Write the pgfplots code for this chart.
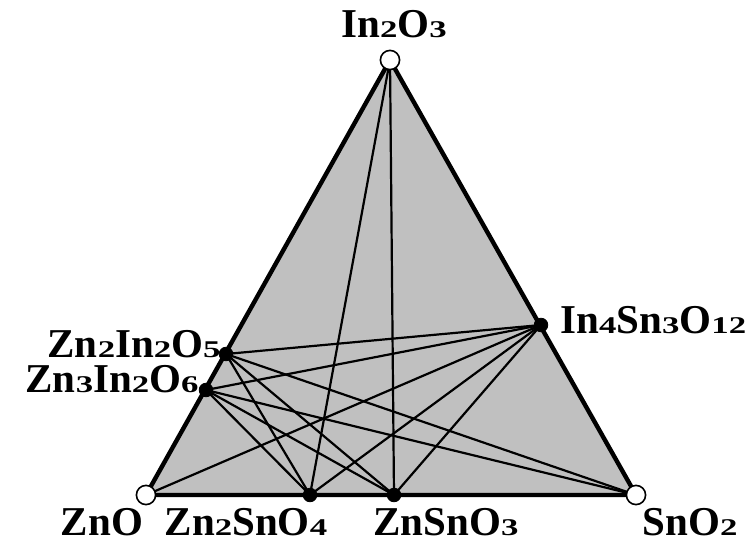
\documentclass[border=0pt]{standalone}
\usepackage{pgfplots}
\pgfplotsset{compat=1.18}
\usepackage{fontspec}
\setmainfont{Liberation Serif}
\newcommand{\s}[1]{\scalebox{1.45}[1]{\fontsize{12}{12}\selectfont #1}}
\newcommand{\lab}{\fontsize{20.5}{22}\selectfont\bfseries}
\definecolor{tri}{RGB}{192,192,192}
\begin{document}
\begin{tikzpicture}
\begin{axis}[
  scale only axis, width=374.5pt, height=273.5pt,
  xmin=0, xmax=749, ymin=0, ymax=547,
  hide axis, clip=false]
% invisible corners to fix the bounding box
\addplot[draw=none, forget plot] coordinates {(0,0) (749,547)};
% triangle
\addplot[fill=tri, draw=black, line width=2.2pt, line join=round] coordinates {(146,52) (636,52) (390,487)} -- cycle;
% tie lines
\addplot[black, line width=1.1pt] coordinates {(390,487) (310,52)};
\addplot[black, line width=1.1pt] coordinates {(390,487) (394,52)};
\addplot[black, line width=1.1pt] coordinates {(226,193) (541,222)};
\addplot[black, line width=1.1pt] coordinates {(226,193) (636,52)};
\addplot[black, line width=1.1pt] coordinates {(226,193) (310,52)};
\addplot[black, line width=1.1pt] coordinates {(226,193) (394,52)};
\addplot[black, line width=1.1pt] coordinates {(206,157) (541,222)};
\addplot[black, line width=1.1pt] coordinates {(206,157) (636,52)};
\addplot[black, line width=1.1pt] coordinates {(206,157) (310,52)};
\addplot[black, line width=1.1pt] coordinates {(206,157) (394,52)};
\addplot[black, line width=1.1pt] coordinates {(146,52) (541,222)};
\addplot[black, line width=1.1pt] coordinates {(310,52) (541,222)};
\addplot[black, line width=1.1pt] coordinates {(394,52) (541,222)};
% filled points
\addplot[only marks, mark=*, mark size=3.4pt, black] coordinates {(226,193) (206,157) (541,222) (310,52) (394,52)};
% open points
\addplot[only marks, mark=*, mark size=4.8pt, draw=black, fill=white, line width=0.8pt] coordinates {(390,487) (146,52) (636,52)};
% labels
\node[anchor=base, font=\lab, inner sep=0pt] at (axis cs:394,509) {In\s{2}O\s{3}};
\node[anchor=base, font=\lab, inner sep=0pt] at (axis cs:102,12) {ZnO};
\node[anchor=base, font=\lab, inner sep=0pt] at (axis cs:246,12) {Zn\s{2}SnO\s{4}};
\node[anchor=base, font=\lab, inner sep=0pt] at (axis cs:446,12) {ZnSnO\s{3}};
\node[anchor=base, font=\lab, inner sep=0pt] at (axis cs:690,12) {SnO\s{2}};
\node[anchor=base west, font=\lab, inner sep=0pt] at (axis cs:560,214) {In\s{4}Sn\s{3}O\s{12}};
\node[anchor=base east, font=\lab, inner sep=0pt] at (axis cs:221,190) {Zn\s{2}In\s{2}O\s{5}};
\node[anchor=base east, font=\lab, inner sep=0pt] at (axis cs:199,155) {Zn\s{3}In\s{2}O\s{6}};
\end{axis}
\end{tikzpicture}
\end{document}
